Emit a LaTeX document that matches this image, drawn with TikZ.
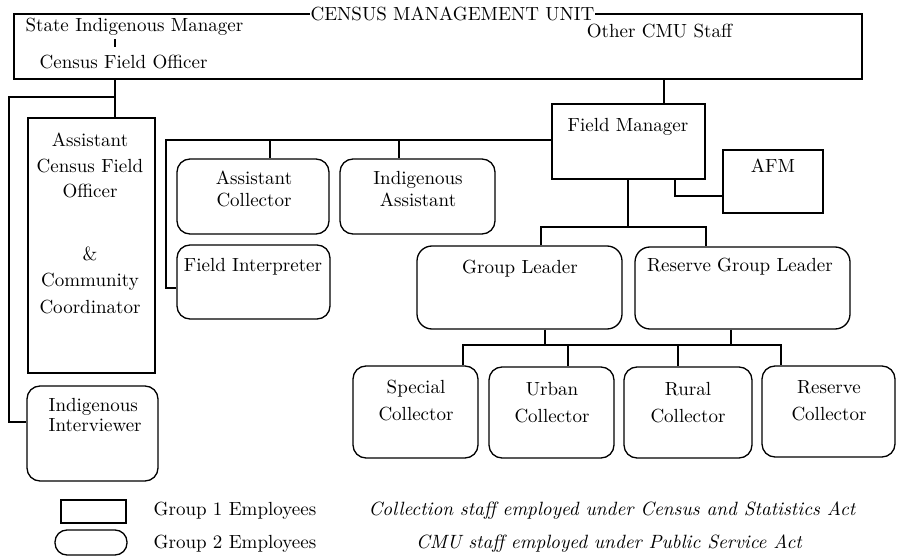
\documentclass[tikz,border=0pt]{standalone}
\usepackage{fontspec}
\setmainfont{lmroman10-regular.otf}[ItalicFont=lmroman10-italic.otf]
\begin{document}
\begin{tikzpicture}[x=1pt,y=-1pt,line width=1.3pt,
  every node/.style={font=\fontsize{19}{22}\selectfont},
  grpone/.style={draw,rectangle,inner sep=0pt},
  grptwo/.style={draw,rectangle,rounded corners=13pt,inner sep=0pt},
  txt/.style={inner sep=0pt,anchor=base,align=center},
  txtl/.style={inner sep=0pt,anchor=base west,align=left}]
\useasboundingbox (0,0) rectangle (897,556);

% ---- boxes ----
\node[grpone,minimum width=848pt,minimum height=65pt] (cmu) at (438,46.5) {};
\node[grpone,minimum width=127pt,minimum height=255pt] (acfo) at (91.5,245.5) {};
\node[grptwo,minimum width=131pt,minimum height=95pt] (ii) at (92.5,433.5) {};
\node[grpone,minimum width=153pt,minimum height=75pt] (fm) at (628.5,141.5) {};
\node[grptwo,minimum width=152pt,minimum height=75pt] (ac) at (253,196.5) {};
\node[grptwo,minimum width=155pt,minimum height=75pt] (ia) at (417.5,196.5) {};
\node[grptwo,minimum width=153pt,minimum height=74pt] (fi) at (253.5,282) {};
\node[grpone,minimum width=100pt,minimum height=63pt] (afm) at (773,181.5) {};
\node[grptwo,minimum width=205pt,minimum height=83pt,rounded corners=15pt] (gl) at (519.5,287.5) {};
\node[grptwo,minimum width=215pt,minimum height=82pt,rounded corners=15pt] (rgl) at (742.5,288) {};
\node[grptwo,minimum width=125pt,minimum height=92pt] (sc) at (415.5,412) {};
\node[grptwo,minimum width=125pt,minimum height=91pt] (uc) at (551.5,412.5) {};
\node[grptwo,minimum width=128pt,minimum height=91pt] (rc) at (688,412.5) {};
\node[grptwo,minimum width=133pt,minimum height=91pt] (resc) at (828.5,411.5) {};

% legend shapes
\node[grpone,minimum width=65pt,minimum height=23pt] (lg1) at (93.5,511.5) {};
\node[draw,rectangle,rounded corners=12pt,inner sep=0pt,minimum width=72pt,minimum height=25pt] (lg2) at (91,542.5) {};

% ---- title on the CMU frame ----
\node[fill=white,inner xsep=1pt,inner ysep=2pt] (title) at (452.5,13.6) {CENSUS MANAGEMENT UNIT};

% ---- texts (base = baseline of last line) ----
\node[txtl] (sim) at (25,32) {State Indigenous Manager};
\node[txtl] (cfo) at (39,69) {Census Field Officer};
\node[txt] (other) at (659.5,38) {Other CMU Staff};
\node[txt,font=\fontsize{19}{25.5}\selectfont] (acfot) at (90,198) {Assistant\\Census Field\\Officer};
\node[txt,font=\fontsize{19}{26.5}\selectfont] (acfob) at (90,313) {\&\\Community\\Coordinator};
\node[txtl,font=\fontsize{19}{19.5}\selectfont] (iit) at (48,431) {Indigenous\\Interviewer};
\node[txt] (fmt) at (628,132) {Field Manager};
\node[txt] (act) at (254,207) {Assistant\\Collector};
\node[txt] (iat) at (418,207) {Indigenous\\Assistant};
\node[txt] (fit) at (253,272) {Field Interpreter};
\node[txt] (afmt) at (773,173) {AFM};
\node[txt] (glt) at (520,273) {Group Leader};
\node[txt] (rglt) at (740,272) {Reserve Group Leader};
\node[txt,font=\fontsize{19}{27}\selectfont] (sct) at (416,420) {Special\\Collector};
\node[txt,font=\fontsize{19}{27}\selectfont] (uct) at (552,422) {Urban\\Collector};
\node[txt,font=\fontsize{19}{27}\selectfont] (rct) at (688,422) {Rural\\Collector};
\node[txt,font=\fontsize{19}{27}\selectfont] (resct) at (829,420) {Reserve\\Collector};
\node[txtl] (lg1t) at (153,515) {Group 1 Employees};
\node[txtl] (lg2t) at (153,548) {Group 2 Employees};
\node[txt,font=\fontsize{19.2}{22}\itshape] (n1) at (612,515) {Collection staff employed under Census and Statistics Act};
\node[txt,font=\fontsize{19.2}{22}\itshape] (n2) at (609,548) {CMU staff employed under Public Service Act};

% ---- connectors ----
\coordinate (bar) at (115,0);
\draw ([yshift=-7pt]sim.base -| bar) -- ([yshift=22pt]cfo.base -| bar);

\coordinate (j1) at (115,97);
\coordinate (jii) at (9,422);
\draw (cmu.south -| j1) -- (acfo.north -| j1);
\draw (j1) -| (jii) -- (ii.west |- jii);

\coordinate (j2) at (664,90);
\draw (cmu.south -| j2) -- (fm.north -| j2);

\coordinate (j3) at (166,140);
\coordinate (j4) at (166,288);
\coordinate (jac) at (270,140);
\coordinate (jia) at (399,140);
\draw (fm.west |- j3) -- (j3) -- (j4) -- (fi.west |- j4);
\draw (jac) -- (ac.north -| jac);
\draw (jia) -- (ia.north -| jia);

\coordinate (j5) at (675,196);
\draw (fm.south -| j5) -- (j5) -- (afm.west |- j5);

\coordinate (j6) at (628,227);
\coordinate (j6l) at (541,227);
\coordinate (j6r) at (706,227);
\draw (fm.south -| j6) -- (j6);
\draw (gl.north -| j6l) -- (j6l) -- (j6r) -- (rgl.north -| j6r);

\coordinate (k1) at (545,345);
\coordinate (k2) at (731,345);
\coordinate (ksc) at (463,345);
\coordinate (kuc) at (568,345);
\coordinate (krc) at (678,345);
\coordinate (kre) at (781,345);
\draw (gl.south -| k1) -- (k1);
\draw (rgl.south -| k2) -- (k2);
\draw (sc.north -| ksc) -- (ksc) -- (kre) -- (resc.north -| kre);
\draw (kuc) -- (uc.north -| kuc);
\draw (krc) -- (rc.north -| krc);
\end{tikzpicture}
\end{document}
